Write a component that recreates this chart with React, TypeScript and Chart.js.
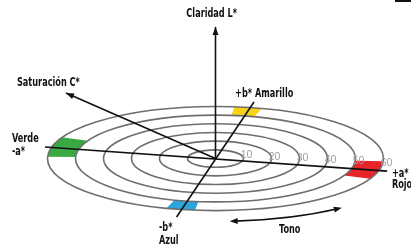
import React, { useEffect, useRef } from 'react';
import { Chart, registerables } from 'chart.js';

Chart.register(...registerables);

// ---- data ----
const RINGS = [10, 20, 30, 40, 50, 60];
const RING_LABELS = ['10', '20', '30', '40', '50', '60'];

// hue patches on the outer band (degrees on the a*/b* plane)
const PATCH_NAMES = ['Rojo', 'Amarillo', 'Verde', 'Azul'];
const PATCH_FROM = [-23, 74, 156, 253];
const PATCH_TO = [-3, 83.5, 178, 263];
const PATCH_COLORS = ['#e8242b', '#f8d313', '#39a943', '#2ba5de'];

// axes (plane units, centre = 0,0)
const AXIS_A = [{ x: -60.9, y: 4.1 }, { x: 61.3, y: -4.5 }];
const AXIS_B = [{ x: -13.9, y: -20.9 }, { x: 13.75, y: 20.2 }];
const AXIS_L = [{ x: 0, y: 0 }, { x: 0, y: 47 }];
const AXIS_C = [{ x: 0, y: 0 }, { x: -53.4, y: 23.4 }];

const TONO_RADIUS = 72.5;
const TONO_FROM = 274;
const TONO_TO = 308.5;

const TEXTS = ['Claridad L*', 'Saturación C*', '+b* Amarillo', 'Verde', '-a*', '+a*', 'Rojo', '-b*', 'Azul', 'Tono'];
const TEXT_X = [-1.36, -70.9, 7.0, -72.7, -72.7, 63.0, 63.0, -20.2, -20.2, 22.7];
const TEXT_Y = [51.6, 27.0, 22.9, 7.14, 2.3, -5.5, -9.5, -24.8, -29.3, -25.7];
const TEXT_ALIGN: CanvasTextAlign[] = ['center', 'left', 'left', 'left', 'left', 'left', 'left', 'left', 'left', 'left'];

const RATIO = 0.31;
const X_MIN = -76.96, X_MAX = 69.82, Y_MIN = -31.96, Y_MAX = 56.61;

const BOLD_FONT = '700 11.5px "DejaVu Sans Condensed", "DejaVu Sans", sans-serif';
const TEXT_SQUEEZE = 0.79;
const TICK_FONT = '400 10.5px "Liberation Sans", Arial, sans-serif';

function arrowHead(ctx: CanvasRenderingContext2D, tx: number, ty: number, dx: number, dy: number, len = 7, w = 3) {
  const l = Math.hypot(dx, dy);
  const ux = dx / l, uy = dy / l;
  const bx = tx - ux * len, by = ty - uy * len;
  ctx.beginPath();
  ctx.moveTo(tx, ty);
  ctx.lineTo(bx - uy * w, by + ux * w);
  ctx.lineTo(bx + uy * w, by - ux * w);
  ctx.closePath();
  ctx.fill();
}

const diagramPlugin = {
  id: 'labDiagram',
  beforeDatasetsDraw(chart: any) {
    const { ctx, scales } = chart;
    const xs = scales.x, ys = scales.y;
    const cx = xs.getPixelForValue(0), cy = ys.getPixelForValue(0);
    const rx = (r: number) => xs.getPixelForValue(r) - cx;
    const ry = (r: number) => cy - ys.getPixelForValue(r * RATIO);
    const d = Math.PI / 180;
    ctx.save();
    const outer = RINGS[RINGS.length - 1], inner = RINGS[RINGS.length - 2];
    PATCH_NAMES.forEach((_, i) => {
      ctx.beginPath();
      ctx.ellipse(cx, cy, rx(outer), ry(outer), 0, -PATCH_FROM[i] * d, -PATCH_TO[i] * d, true);
      ctx.ellipse(cx, cy, rx(inner), ry(inner), 0, -PATCH_TO[i] * d, -PATCH_FROM[i] * d, false);
      ctx.closePath();
      ctx.fillStyle = PATCH_COLORS[i];
      ctx.fill();
    });
    ctx.strokeStyle = '#6e6e6e';
    ctx.lineWidth = 1.6;
    RINGS.forEach((r) => {
      ctx.beginPath();
      ctx.ellipse(cx, cy, rx(r), ry(r), 0, 0, Math.PI * 2);
      ctx.stroke();
    });
    ctx.font = TICK_FONT;
    ctx.fillStyle = '#a0a0a0';
    ctx.textAlign = 'left';
    ctx.textBaseline = 'middle';
    RINGS.forEach((r, i) => {
      ctx.fillText(RING_LABELS[i], xs.getPixelForValue(r - 1.0), ys.getPixelForValue(1.6 - 0.053 * r));
    });
    ctx.restore();
  },
  afterDatasetsDraw(chart: any) {
    const { ctx, scales } = chart;
    const xs = scales.x, ys = scales.y;
    const P = (p: { x: number; y: number }) => [xs.getPixelForValue(p.x), ys.getPixelForValue(p.y)];
    const cx = xs.getPixelForValue(0), cy = ys.getPixelForValue(0);
    const d = Math.PI / 180;
    ctx.save();
    ctx.fillStyle = '#111';
    ctx.strokeStyle = '#111';
    [AXIS_L, AXIS_C].forEach((a) => {
      const [x0, y0] = P(a[0]);
      const [x1, y1] = P(a[1]);
      arrowHead(ctx, x1, y1, x1 - x0, y1 - y0, 8, 3);
    });
    const trx = xs.getPixelForValue(TONO_RADIUS) - cx;
    const tryy = cy - ys.getPixelForValue(TONO_RADIUS * RATIO);
    ctx.lineWidth = 1.6;
    ctx.beginPath();
    ctx.ellipse(cx, cy, trx, tryy, 0, -(TONO_FROM + 1.5) * d, -(TONO_TO - 1.5) * d, true);
    ctx.stroke();
    const pt = (t: number) => [cx + trx * Math.cos(t * d), cy - tryy * Math.sin(t * d)];
    const [sx, sy] = pt(TONO_FROM);
    arrowHead(ctx, sx, sy, trx * Math.sin(TONO_FROM * d), tryy * Math.cos(TONO_FROM * d), 8, 3);
    const [ex, ey] = pt(TONO_TO);
    arrowHead(ctx, ex, ey, -trx * Math.sin(TONO_TO * d), -tryy * Math.cos(TONO_TO * d), 8, 3);
    ctx.fillRect(xs.getPixelForValue(64.1), 0, xs.getPixelForValue(69.82) - xs.getPixelForValue(64.1), 2);
    ctx.font = BOLD_FONT;
    ctx.textBaseline = 'middle';
    TEXTS.forEach((t, i) => {
      ctx.save();
      ctx.translate(xs.getPixelForValue(TEXT_X[i]), ys.getPixelForValue(TEXT_Y[i]));
      ctx.scale(TEXT_SQUEEZE, 1);
      ctx.textAlign = TEXT_ALIGN[i];
      ctx.fillText(t, 0, 0);
      ctx.restore();
    });
    ctx.restore();
  },
};

export default function App() {
  const ref = useRef<HTMLCanvasElement | null>(null);
  useEffect(() => {
    document.body.style.margin = '0';
    if (!ref.current) return;
    const line = (data: { x: number; y: number }[]) => ({
      data,
      showLine: true,
      borderColor: '#111',
      borderWidth: 1.6,
      pointRadius: 0,
      fill: false,
    });
    const chart = new Chart(ref.current, {
      type: 'scatter',
      data: { datasets: [line(AXIS_A), line(AXIS_B), line(AXIS_L), line(AXIS_C)] as any },
      options: {
        animation: false,
        responsive: false,
        maintainAspectRatio: false,
        events: [],
        layout: { padding: 0 },
        plugins: { legend: { display: false }, tooltip: { enabled: false } },
        scales: {
          x: { type: 'linear', min: X_MIN, max: X_MAX, display: false },
          y: { type: 'linear', min: Y_MIN, max: Y_MAX, display: false },
        },
      },
      plugins: [diagramPlugin],
    });
    return () => chart.destroy();
  }, []);
  return <canvas ref={ref} width={411} height={248} style={{ display: 'block' }} />;
}
